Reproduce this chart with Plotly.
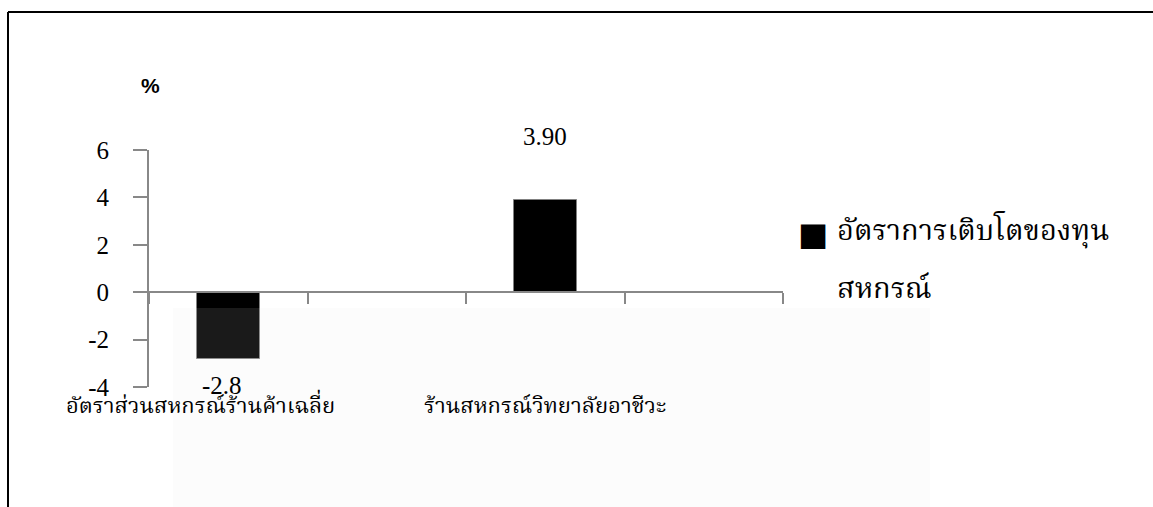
import plotly.graph_objects as go

# ---- data ----
categories = ["อัตราส่วนสหกรณ์ร้านค้าเฉลี่ย", "", "ร้านสหกรณ์วิทยาลัยอาชีวะ", ""]
series_name = "อัตราการเติบโตของทุน<br>สหกรณ์"
series_values = [-2.8, None, 3.90, None]
value_labels = ["-2.8", "", "3.90", ""]
y_ticks = [6, 4, 2, 0, -2, -4]
y_tick_labels = ["6", "4", "2", "0", "-2", "-4"]
y_unit = "%"

W, H = 1153, 507
L, R, T, B = 149, 370, 150, 120
pw, ph = W - L - R, H - T - B
Y_MIN, Y_MAX = -4, 6

def px_x(p):
    return (p - L) / pw

def px_y(p):
    return (H - B - p) / ph

thai_font = "Noto Serif Thai, Noto Sans Thai, Loma, Garuda, Noto Sans, serif"
serif = "Liberation Serif, Times New Roman, serif"

xs = list(range(len(categories)))
bx = [x for x, v in zip(xs, series_values) if v is not None]
by = [v for v in series_values if v is not None]

fig = go.Figure()
fig.add_trace(go.Bar(
    x=bx, y=by, width=0.4, name=series_name,
    marker=dict(color="#000000", line=dict(color="#808080", width=1)),
    showlegend=False,
))

annotations = []
for x, v, lab in zip(xs, series_values, value_labels):
    if v is None:
        continue
    if v >= 0:
        annotations.append(dict(x=x, y=v, text=lab, showarrow=False, yshift=63,
                                font=dict(family=serif, size=25, color="#000")))
    else:
        annotations.append(dict(x=x, y=v, text=lab, showarrow=False, yshift=-27, xshift=-6,
                                font=dict(family=serif, size=25, color="#000")))

# category labels (label offsets mimic the original's placement)
label_xshift = {0: -28, 2: 0}
for x, c in enumerate(categories):
    if c:
        annotations.append(dict(x=x, y=Y_MIN, yref="y", text=c, showarrow=False,
                                yshift=-20, xshift=label_xshift.get(x, 0), xanchor="center",
                                font=dict(family=thai_font, size=22, color="#000")))

# unit label
annotations.append(dict(x=px_x(150), y=px_y(86), xref="paper", yref="paper", text="<b>%s</b>" % y_unit,
                        xanchor="center", yanchor="middle",
                        showarrow=False, font=dict(family="Liberation Sans, Arial", size=21, color="#000")))

# legend (manual)
annotations.append(dict(x=px_x(813), y=px_y(234), xref="paper", yref="paper", text="■",
                        xanchor="center", yanchor="middle",
                        showarrow=False, font=dict(family="DejaVu Sans", size=32, color="#000")))
legend_lines = series_name.split("<br>")
for i, line in enumerate(legend_lines):
    annotations.append(dict(x=px_x(835), y=px_y(232 + 58 * i), xref="paper", yref="paper", text=line,
                            showarrow=False, xanchor="left", yanchor="middle",
                            font=dict(family=thai_font, size=29, color="#000")))

shapes = [
    # watermark backdrop
    dict(type="rect", xref="paper", yref="paper", x0=px_x(173), x1=px_x(930), y0=px_y(308), y1=-0.7,
         fillcolor="#fcfcfc", line=dict(width=0), layer="below"),
    dict(type="rect", xref="paper", yref="paper", x0=px_x(173), x1=px_x(930), y0=px_y(308), y1=-0.7,
         fillcolor="rgba(255,255,255,0.1)", line=dict(width=0), layer="above"),
    # outer frame
    dict(type="line", xref="paper", yref="paper", x0=px_x(8), x1=1.7, y0=px_y(12), y1=px_y(12),
         line=dict(color="#000", width=2)),
    dict(type="line", xref="paper", yref="paper", x0=px_x(8), x1=px_x(8), y0=px_y(12), y1=-0.7,
         line=dict(color="#000", width=2)),
]

fig.update_layout(
    width=W, height=H,
    margin=dict(l=L, r=R, t=T, b=B, autoexpand=False),
    paper_bgcolor="white", plot_bgcolor="rgba(0,0,0,0)",
    annotations=annotations, shapes=shapes,
    bargap=0,
)
fig.update_xaxes(
    range=[-0.5, len(categories) - 0.5], showgrid=False, zeroline=False,
    tickmode="array", tickvals=[i - 0.5 for i in range(len(categories) + 1)],
    ticktext=[""] * (len(categories) + 1),
    ticks="outside", ticklen=11, tickcolor="#888", tickwidth=2,
    showline=True, linecolor="#888", linewidth=2,
    anchor="free", position=(0 - Y_MIN) / (Y_MAX - Y_MIN),
)
fig.update_yaxes(
    range=[Y_MIN, Y_MAX], showgrid=False, zeroline=False,
    tickmode="array", tickvals=y_ticks, ticktext=y_tick_labels,
    ticks="outside", ticklen=14, tickcolor="#888", tickwidth=2,
    showline=True, linecolor="#888", linewidth=2,
    ticklabelstandoff=19,
    tickfont=dict(family=serif, size=25, color="#000"),
)

fig.write_html("out.html", config={"displayModeBar": False},
               post_script="document.body.style.margin='0';document.body.style.overflow='hidden';")
